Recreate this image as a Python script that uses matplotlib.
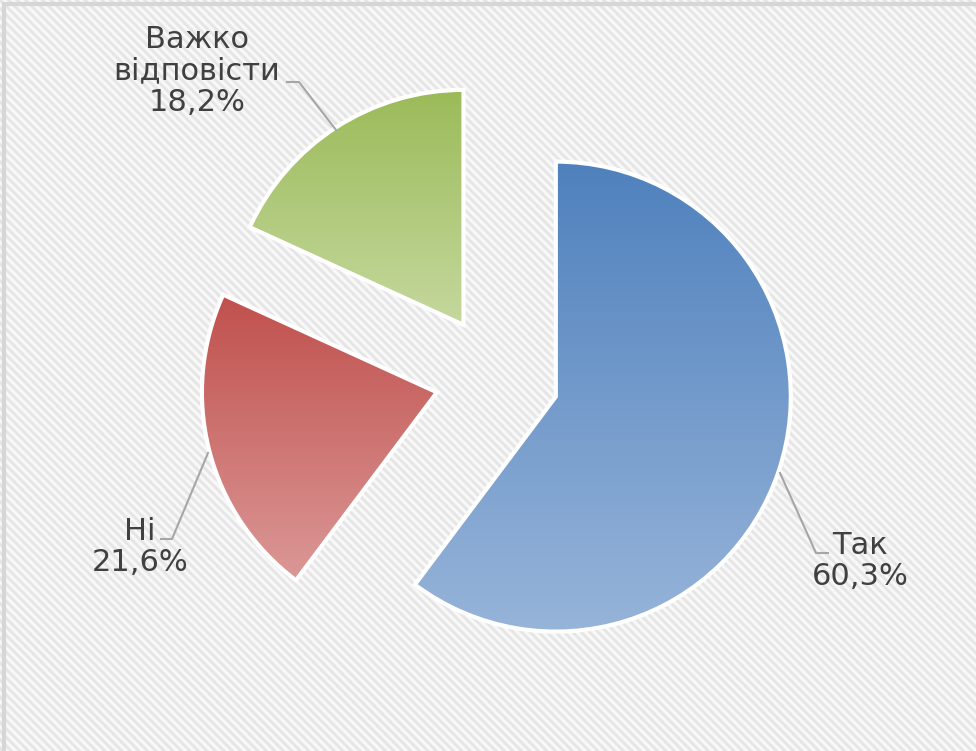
import numpy as np
import matplotlib
matplotlib.use("Agg")
import matplotlib.pyplot as plt
from matplotlib.colors import LinearSegmentedColormap

# survey answers
categories = ["Так", "Ні", "Важко\nвідповісти"]
shares = [60.3, 21.6, 18.2]
top_colors = ["#4F81BD", "#C0504D", "#9BBB59"]
bottom_colors = ["#97B4D9", "#DB9896", "#C5D89E"]

W, H = 976, 751

fig = plt.figure(figsize=(W / 100, H / 100), dpi=100)
ax = fig.add_axes([0, 0, 1, 1])

# striped background
rows, cols = np.mgrid[0:H, 0:W]
stripes = 0.5 + 0.5 * np.cos(2 * np.pi * (cols - rows) / 8.5)
bg = LinearSegmentedColormap.from_list("bg", ["#FAFAFA", "#E4E4E4"])
ax.imshow(stripes, cmap=bg, extent=(0, W, 0, H), origin="upper",
          interpolation="bilinear", zorder=0, aspect="auto")
ax.plot([4, 4, W + 5], [-5, H - 4, H - 4], color="#D6D6D6", lw=3, zorder=1,
        solid_joinstyle="miter")

# explode is given in data units (pixels here)
radius = 235
wedges, _ = ax.pie(shares, explode=[62] * 3, center=(497, H - 377),
                   radius=radius, startangle=90, counterclock=False,
                   wedgeprops=dict(edgecolor="white", linewidth=3,
                                   facecolor="none"),
                   frame=True)
ax.set_xlim(0, W)
ax.set_ylim(0, H)
ax.set_aspect("auto")
ax.axis("off")

for w, c_top, c_bot in zip(wedges, top_colors, bottom_colors):
    w.set_zorder(3)
    path = w.get_patch_transform().transform_path(w.get_path())
    ext = path.get_extents()
    cmap = LinearSegmentedColormap.from_list("g", [c_bot, c_top])
    grad = np.linspace(0, 1, 256).reshape(-1, 1)
    im = ax.imshow(grad, cmap=cmap, origin="lower", aspect="auto",
                   extent=(ext.x0, ext.x1, ext.y0, ext.y1), zorder=2)
    im.set_clip_path(w)


def pct(v):
    return f"{v:.1f}".replace(".", ",") + "%"


# labels and leader lines (pixel positions measured from the top)
label_pos = [(860, 561), (140, 547), (197, 71)]
leaders = [
    [(780, 473), (816, 553), (828, 553)],
    [(208, 453), (172, 539), (161, 539)],
    [(336, 130), (299, 82), (287, 82)],
]
for cat, v, (x, y), pts in zip(categories, shares, label_pos, leaders):
    ax.text(x, H - y, f"{cat}\n{pct(v)}", ha="center", va="center",
            multialignment="center", fontsize=22, color="#404040",
            family="DejaVu Sans", linespacing=1.12, zorder=5)
    xs = [p[0] for p in pts]
    ys = [H - p[1] for p in pts]
    ax.plot(xs, ys, color="#A6A6A6", lw=1.5, zorder=4)

fig.savefig("out.png", dpi=100)
